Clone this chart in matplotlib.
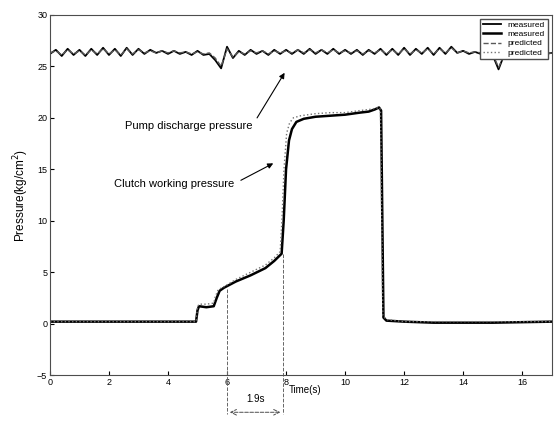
import numpy as np
import matplotlib
matplotlib.use("Agg")
import matplotlib.pyplot as plt

plt.rcParams['font.family'] = ['Liberation Sans', 'DejaVu Sans']

# pump discharge pressure, sampled every 0.2 s
pump_t = np.round(np.arange(0, 17.01, 0.2), 1)
pump_meas = [26.2, 26.6, 26.0, 26.7, 26.1, 26.6, 26.0, 26.7, 26.1, 26.8,
             26.1, 26.7, 26.0, 26.8, 26.1, 26.7, 26.2, 26.6, 26.3, 26.5,
             26.2, 26.5, 26.2, 26.4, 26.1, 26.5, 26.1, 26.2, 25.6, 24.8,
             26.9, 25.8, 26.5, 26.1, 26.6, 26.2, 26.5, 26.1, 26.6, 26.2,
             26.6, 26.2, 26.6, 26.2, 26.7, 26.2, 26.6, 26.2, 26.7, 26.2,
             26.6, 26.2, 26.6, 26.1, 26.6, 26.2, 26.7, 26.1, 26.7, 26.1,
             26.8, 26.1, 26.7, 26.2, 26.8, 26.1, 26.8, 26.2, 26.9, 26.3,
             26.5, 26.2, 26.4, 26.2, 26.4, 26.1, 24.7, 26.2, 26.0, 26.4,
             26.1, 26.4, 26.1, 26.4, 26.2, 26.3]
pump_pred = [26.3, 26.5, 26.1, 26.6, 26.2, 26.5, 26.1, 26.6, 26.2, 26.7,
             26.2, 26.6, 26.1, 26.7, 26.2, 26.6, 26.3, 26.5, 26.3, 26.5,
             26.3, 26.5, 26.3, 26.4, 26.2, 26.4, 26.2, 26.3, 25.8, 25.0,
             26.7, 25.9, 26.4, 26.2, 26.5, 26.3, 26.5, 26.2, 26.5, 26.3,
             26.5, 26.3, 26.6, 26.3, 26.6, 26.3, 26.6, 26.3, 26.6, 26.3,
             26.5, 26.3, 26.5, 26.2, 26.5, 26.3, 26.6, 26.2, 26.6, 26.2,
             26.7, 26.2, 26.6, 26.3, 26.7, 26.2, 26.7, 26.3, 26.8, 26.3,
             26.5, 26.3, 26.4, 26.3, 26.4, 26.2, 24.9, 26.1, 26.1, 26.3,
             26.2, 26.3, 26.2, 26.3, 26.2, 26.3]

# clutch working pressure
clutch_t = [0, 4.95, 5.0, 5.05, 5.3, 5.55, 5.65, 5.75, 5.9, 6.3, 6.8, 7.3, 7.6,
            7.85, 7.92, 8.0, 8.1, 8.2, 8.35, 8.6, 9.0, 9.5, 10.0, 10.5, 10.8,
            11.0, 11.15, 11.22, 11.3, 11.4, 12, 13, 14, 15, 16, 17]
clutch_meas = [0.2, 0.2, 1.3, 1.7, 1.6, 1.7, 2.5, 3.2, 3.5, 4.1, 4.7, 5.4, 6.1,
               6.8, 10.0, 15.0, 17.8, 18.9, 19.6, 19.9, 20.1, 20.2, 20.3, 20.5,
               20.6, 20.8, 21.0, 20.7, 0.6, 0.3, 0.2, 0.1, 0.1, 0.1, 0.15, 0.2]
clutch_pred_t = [0, 4.95, 5.0, 5.05, 5.3, 5.55, 5.6, 5.7, 5.9, 6.3, 6.8, 7.3,
                 7.6, 7.8, 7.86, 7.93, 8.02, 8.12, 8.25, 8.5, 9.0, 9.5, 10.0,
                 10.5, 10.8, 11.0, 11.15, 11.2, 11.28, 11.4, 12, 13, 14, 15,
                 16, 17]
clutch_pred = [0.2, 0.2, 1.6, 1.9, 1.9, 2.0, 2.6, 3.3, 3.6, 4.3, 5.0, 5.7, 6.4,
               7.0, 10.0, 15.0, 18.5, 19.5, 20.0, 20.2, 20.4, 20.5, 20.5, 20.7,
               20.8, 20.9, 21.0, 20.8, 0.8, 0.4, 0.2, 0.2, 0.2, 0.2, 0.2, 0.2]

xticks = [0, 2, 4, 6, 8, 10, 12, 14, 16]
yticks = [-5, 0, 5, 10, 15, 20, 25, 30]

fig = plt.figure(figsize=(5.55, 4.23), dpi=100)
ax = fig.add_axes([0.09, 0.113, 0.904, 0.852])

ax.plot(pump_t, pump_meas, color="black", lw=1.3, label="measured")
ax.plot(clutch_t, clutch_meas, color="black", lw=1.8, label="measured")
ax.plot(pump_t, pump_pred, color="0.35", lw=1.0, ls="--", label="predicted")
ax.plot(clutch_pred_t, clutch_pred, color="0.45", lw=1.0, ls=":", label="predicted")

ax.set_xlim(0, 17)
ax.set_ylim(-5, 30)
ax.set_xticks(xticks)
ax.set_yticks(yticks)
ax.tick_params(direction="in", labelsize=6.5, length=3, pad=2)
for s in ax.spines.values():
    s.set_linewidth(0.8)
    s.set_color("0.3")

ax.set_ylabel("Pressure(kg/cm$^2$)", fontsize=8.5, labelpad=4)
ax.text(8.1, -6.0, "Time(s)", fontsize=7, ha="left", va="top", clip_on=False)

ax.legend(loc="upper right", fontsize=6, handlelength=2.2, borderpad=0.3,
          labelspacing=0.15, framealpha=1, edgecolor="0.3", fancybox=False)

ax.annotate("Pump discharge pressure", xy=(8.0, 24.6), xytext=(6.85, 19.2),
            fontsize=8, ha="right", va="center",
            arrowprops=dict(arrowstyle="-|>", color="black", lw=0.8,
                            relpos=(1, 0.5), shrinkA=3))
ax.annotate("Clutch working pressure", xy=(7.65, 15.7), xytext=(6.25, 13.6),
            fontsize=8, ha="right", va="center",
            arrowprops=dict(arrowstyle="-|>", color="black", lw=0.8,
                            relpos=(1, 0.5), shrinkA=3))

# 1.9 s delay marker
for xv, ytop in [(6.0, 3.4), (7.9, 6.8)]:
    ax.plot([xv, xv], [ytop, -8.8], color="0.4", lw=0.7, ls="--", clip_on=False)
ax.annotate("", xy=(6.0, -8.6), xytext=(7.9, -8.6),
            arrowprops=dict(arrowstyle="<->", color="0.3", lw=0.7, ls="--"),
            annotation_clip=False)
ax.text(6.95, -7.8, "1.9s", fontsize=7, ha="center", va="bottom")

fig.savefig("out.png", dpi=100)
